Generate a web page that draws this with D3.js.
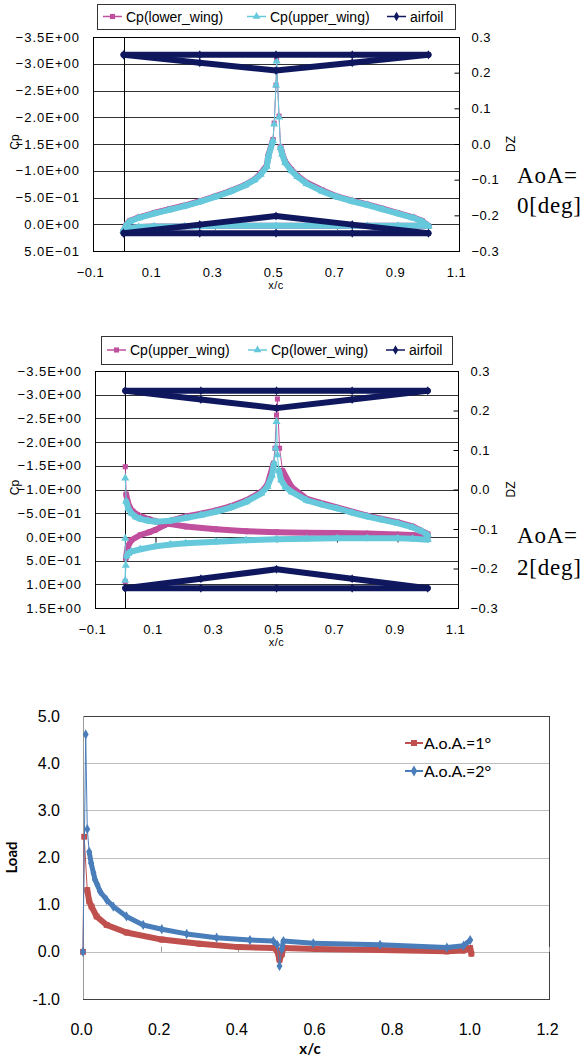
<!DOCTYPE html>
<html>
<head>
<meta charset="utf-8">
<script src="https://cdn.jsdelivr.net/npm/d3@7"></script>
<style>
  body { margin: 0; background: #fff; }
  svg { display: block; }
</style>
</head>
<body>
<div id="chart"></div>
<script>
// ---------- panel 1 : AoA = 0 deg ----------
const p1LowerInnerX  = [0, 0.01, 0.02, 0.05, 0.1, 0.15, 0.2, 0.25, 0.3, 0.35, 0.4, 0.43, 0.45, 0.47, 0.475, 0.49, 0.494, 0.5, 0.502, 0.51, 0.515, 0.52, 0.53, 0.55, 0.57, 0.6, 0.65, 0.7, 0.75, 0.8, 0.85, 0.9, 0.95, 0.98, 1.0];
const p1LowerInnerCp = [0.12, 0.0, -0.06, -0.13, -0.21, -0.28, -0.35, -0.43, -0.52, -0.62, -0.74, -0.84, -0.95, -1.1, -1.29, -1.58, -1.89, -2.6, -3.08, -2.02, -1.45, -1.33, -1.17, -1.02, -0.91, -0.78, -0.64, -0.52, -0.44, -0.37, -0.29, -0.21, -0.13, -0.06, 0.03];
const p1UpperInnerCp = [0.12, 0.01, -0.05, -0.12, -0.2, -0.27, -0.34, -0.42, -0.51, -0.61, -0.73, -0.83, -0.93, -1.08, -1.27, -1.56, -1.87, -2.6, -3.05, -2.0, -1.43, -1.31, -1.15, -1.0, -0.89, -0.76, -0.62, -0.51, -0.43, -0.36, -0.28, -0.2, -0.12, -0.05, 0.04];
const p1OuterX  = [0, 0.02, 0.05, 0.1, 0.2, 0.3, 0.4, 0.5, 0.6, 0.7, 0.8, 0.9, 1.0];
const p1OuterCp = [0.12, 0.07, 0.05, 0.04, 0.04, 0.03, 0.03, 0.03, 0.03, 0.03, 0.03, 0.03, 0.03];

// airfoil (biplane sections), same in both panels
const foilX      = [0, 0.25, 0.5, 0.75, 1.0, 0.75, 0.5, 0.25, 0];
const foilUpperZ = [0.25, 0.228, 0.206, 0.228, 0.25, 0.25, 0.25, 0.25, 0.25];
const foilLowerZ = [-0.25, -0.226, -0.202, -0.226, -0.25, -0.25, -0.25, -0.25, -0.25];

// ---------- panel 2 : AoA = 2 deg ----------
const p2UpperOuterX  = [0, 0.003, 0.008, 0.015, 0.025, 0.04, 0.06, 0.08, 0.1, 0.15, 0.2, 0.3, 0.4, 0.5, 0.6, 0.7, 0.8, 0.9, 0.95, 1.0];
const p2UpperOuterCp = [-1.48, -0.9, -0.75, -0.62, -0.54, -0.47, -0.41, -0.37, -0.33, -0.27, -0.22, -0.16, -0.12, -0.1, -0.09, -0.08, -0.07, -0.05, -0.04, -0.01];
const p2UpperInnerX  = [0, 0.002, 0.008, 0.02, 0.05, 0.08, 0.1, 0.13, 0.16, 0.2, 0.25, 0.3, 0.35, 0.4, 0.45, 0.47, 0.49, 0.495, 0.5, 0.503, 0.51, 0.52, 0.55, 0.6, 0.7, 0.8, 0.9, 0.95, 1.0];
const p2UpperInnerCp = [0.94, 0.45, 0.21, 0.07, -0.04, -0.1, -0.15, -0.25, -0.36, -0.43, -0.49, -0.56, -0.65, -0.77, -0.95, -1.1, -1.55, -1.87, -2.57, -2.91, -1.87, -1.4, -1.05, -0.8, -0.62, -0.45, -0.31, -0.22, -0.06];
const p2LowerInnerX  = [0, 0.003, 0.01, 0.02, 0.035, 0.05, 0.075, 0.1, 0.15, 0.2, 0.25, 0.3, 0.35, 0.4, 0.45, 0.47, 0.485, 0.492, 0.497, 0.5, 0.503, 0.508, 0.515, 0.53, 0.55, 0.6, 0.65, 0.7, 0.75, 0.8, 0.85, 0.9, 0.95, 0.98, 1.0];
const p2LowerInnerCp = [-1.24, -0.75, -0.6, -0.5, -0.42, -0.38, -0.34, -0.32, -0.34, -0.4, -0.46, -0.53, -0.62, -0.74, -0.92, -1.06, -1.3, -1.55, -1.87, -2.43, -1.73, -1.4, -1.2, -1.05, -0.95, -0.77, -0.68, -0.6, -0.51, -0.43, -0.36, -0.29, -0.2, -0.12, -0.04];
const p2LowerOuterX  = [0, 0, 0.002, 0.005, 0.01, 0.02, 0.05, 0.1, 0.15, 0.2, 0.3, 0.4, 0.5, 0.6, 0.7, 0.8, 0.9, 0.95, 1.0];
const p2LowerOuterCp = [0.03, 0.92, 0.6, 0.4, 0.35, 0.31, 0.26, 0.2, 0.16, 0.135, 0.1, 0.07, 0.05, 0.04, 0.03, 0.03, 0.03, 0.04, 0.06];

// ---------- panel 3 : load ----------
const load1X = [0, 0.003, 0.011, 0.016, 0.022, 0.035, 0.061, 0.112, 0.203, 0.3, 0.4, 0.49, 0.5, 0.506, 0.512, 0.516, 0.6, 0.765, 0.937, 0.98, 0.997, 1.0];
const load1  = [0, 2.44, 1.31, 1.07, 0.96, 0.75, 0.57, 0.41, 0.26, 0.17, 0.1, 0.08, 0.03, -0.17, -0.05, 0.08, 0.06, 0.04, 0.01, 0.03, 0.08, -0.04];
const load2X = [0, 0.007, 0.011, 0.016, 0.021, 0.027, 0.031, 0.037, 0.044, 0.061, 0.078, 0.112, 0.155, 0.203, 0.267, 0.344, 0.43, 0.49, 0.5, 0.506, 0.512, 0.516, 0.593, 0.765, 0.937, 0.98, 0.997];
const load2  = [0, 4.61, 2.6, 2.12, 1.88, 1.67, 1.53, 1.42, 1.28, 1.1, 0.96, 0.75, 0.57, 0.48, 0.38, 0.3, 0.25, 0.23, 0.15, -0.3, 0.05, 0.23, 0.18, 0.15, 0.09, 0.13, 0.25];

const cpTicks1 = [-3.5, -3.0, -2.5, -2.0, -1.5, -1.0, -0.5, 0.0, 0.5];
const cpTicks2 = [-3.5, -3.0, -2.5, -2.0, -1.5, -1.0, -0.5, 0.0, 0.5, 1.0, 1.5];
const dzTicks  = [0.3, 0.2, 0.1, 0.0, -0.1, -0.2, -0.3];
const xcTicks  = [-0.1, 0.1, 0.3, 0.5, 0.7, 0.9, 1.1];
const loadTicks = [-1, 0, 1, 2, 3, 4, 5];
const loadXTicks = [0, 0.2, 0.4, 0.6, 0.8, 1.0, 1.2];

const MAG = "#c04f9e", CYA = "#66c9db", NAVY = "#0f185e";
const RED = "#c0504d", BLUE = "#4a7ebb";

const svg = d3.select("#chart").append("svg").attr("width", 587).attr("height", 1059);
svg.append("rect").attr("width", 587).attr("height", 1059).attr("fill", "#fff");

function cpFormat(v) {
  const s = d3.format(".1e")(Math.abs(v));
  const [m, e] = s.split("e");
  const sign = +e < 0 ? "\u2212" : "+";
  return (v < 0 ? "\u2212" : "") + m + "E" + sign + String(Math.abs(+e)).padStart(2, "0");
}

// thick band (dense markers) + thin line + markers
function drawSeries(g, xs, ys, x, y, color, shape, size, band) {
  const pts = xs.map((d, i) => [x(d), y(ys[i])]);
  const segs = d3.pairs(pts).filter(([a, b]) => Math.abs(b[1] - a[1]) <= 3 * Math.abs(b[0] - a[0]) + 6);
  g.append("g").selectAll("line").data(segs).join("line")
    .attr("x1", d => d[0][0]).attr("y1", d => d[0][1])
    .attr("x2", d => d[1][0]).attr("y2", d => d[1][1])
    .attr("stroke", color).attr("stroke-width", band).attr("stroke-linecap", "round");
  g.append("path").attr("d", d3.line()(pts))
    .attr("fill", "none").attr("stroke", color).attr("stroke-width", 1);
  g.append("g").selectAll("path").data(pts).join("path")
    .attr("transform", d => `translate(${d[0]},${d[1]})`)
    .attr("d", d3.symbol(shape, size)).attr("fill", color);
}

function cpPanel(o) {
  const g = svg.append("g").style("font-family", "'Liberation Sans', Arial, sans-serif");
  const x = d3.scaleLinear().domain([-0.1, 1.1]).range([o.left, o.right]);
  const y = d3.scaleLinear().domain([o.cpTicks[0], o.cpTicks[o.cpTicks.length - 1]]).range([o.top, o.bottom]);
  const z = d3.scaleLinear().domain([0.3, -0.3]).range([o.top, o.bottom]);

  // gridlines
  g.append("g").selectAll("line").data(o.cpTicks).join("line")
    .attr("x1", o.left).attr("x2", o.right)
    .attr("y1", d => Math.round(y(d)) + 0.5).attr("y2", d => Math.round(y(d)) + 0.5)
    .attr("stroke", "#333").attr("stroke-width", 1);
  g.append("rect").attr("x", o.left + 0.5).attr("y", o.top + 0.5)
    .attr("width", o.right - o.left).attr("height", o.bottom - o.top)
    .attr("fill", "none").attr("stroke", "#000");
  // value axis crossing at x = 0
  g.append("line").attr("x1", Math.round(x(0)) + 0.5).attr("x2", Math.round(x(0)) + 0.5)
    .attr("y1", o.top).attr("y2", o.bottom).attr("stroke", "#000");

  // category axis at Cp = 0 with tick marks
  g.append("g").attr("transform", `translate(0,${Math.round(y(0)) + 0.5})`)
    .call(d3.axisBottom(x).tickValues(o.xTicks).tickSize(5).tickFormat(""))
    .call(a => a.select(".domain").remove())
    .selectAll("line").attr("stroke", "#000");

  // left Cp labels
  g.append("g").attr("transform", `translate(${o.left},0)`)
    .call(d3.axisLeft(y).tickValues(o.cpTicks).tickSize(0).tickPadding(13).tickFormat(cpFormat))
    .call(a => a.select(".domain").remove())
    .selectAll("text").attr("font-size", 13).attr("letter-spacing", 1)
    .attr("fill", "#000").attr("font-family", null);

  // right DZ axis
  g.append("g").attr("transform", `translate(${o.right + 0.5},0)`)
    .call(d3.axisRight(z).tickValues(dzTicks).tickSize(-5).tickPadding(12).tickFormat(d3.format(".1f")))
    .call(a => a.select(".domain").remove())
    .call(a => a.selectAll("line").attr("stroke", "#000"))
    .selectAll("text").attr("font-size", 13).attr("letter-spacing", 0.5)
    .attr("fill", "#000").attr("font-family", null);

  // bottom x labels
  g.append("g").attr("transform", `translate(0,${o.bottom})`)
    .call(d3.axisBottom(x).tickValues(o.xTicks).tickSize(0).tickPadding(17).tickFormat(d3.format(".1f")))
    .call(a => a.select(".domain").remove())
    .selectAll("text").attr("font-size", 13).attr("letter-spacing", 0.5)
    .attr("fill", "#000").attr("font-family", null).attr("dx", -3);

  g.append("text").attr("x", x(0.5)).attr("y", o.bottom + 38).attr("text-anchor", "middle")
    .attr("font-size", 11).attr("letter-spacing", 0.5).text("x/c");
  g.append("text").attr("transform", `translate(19,${(o.top + o.bottom) / 2 - 2}) rotate(-90)`)
    .attr("text-anchor", "middle").attr("font-size", 12).text("Cp");
  g.append("text").attr("transform", `translate(515,${(o.top + o.bottom) / 2}) rotate(-90)`)
    .attr("text-anchor", "middle").attr("font-size", 12).text("DZ");

  // series
  const sg = g.append("g");
  o.series.forEach(s => {
    s.branches.forEach(b => drawSeries(sg, b[0], b[1], x, y, s.color, s.shape, s.size, 6));
  });
  drawSeries(sg, foilX, foilUpperZ, x, z, NAVY, d3.symbolDiamond, 24, 6);
  drawSeries(sg, foilX, foilLowerZ, x, z, NAVY, d3.symbolDiamond, 24, 6);

  // legend
  const lg = g.append("g");
  lg.append("rect").attr("x", o.legend.x + 0.5).attr("y", o.legend.y + 0.5)
    .attr("width", o.legend.w).attr("height", o.legend.h)
    .attr("fill", "#fff").attr("stroke", "#333");
  const cy = o.legend.y + o.legend.h / 2;
  o.legend.items.forEach(it => {
    lg.append("line").attr("x1", it.lx).attr("x2", it.lx + 19).attr("y1", cy).attr("y2", cy)
      .attr("stroke", it.color).attr("stroke-width", 1.5);
    lg.append("path").attr("transform", `translate(${it.lx + 9.5},${cy})`)
      .attr("d", d3.symbol(it.shape, 26)).attr("fill", it.color);
    lg.append("text").attr("x", it.lx + 23).attr("y", cy + 5).attr("font-size", 14).text(it.label);
  });

  // annotation
  const ann = g.append("text").attr("font-family", "'Liberation Serif', 'Times New Roman', serif")
    .attr("font-size", 23).attr("letter-spacing", 0.8);
  ann.append("tspan").attr("x", 517).attr("y", o.annY).text("AoA=");
  ann.append("tspan").attr("x", 517).attr("y", o.annY + o.annGap).text(o.annText);
}

cpPanel({
  left: 93, right: 459, top: 37, bottom: 251,
  cpTicks: cpTicks1, xTicks: xcTicks,
  series: [
    { color: MAG, shape: d3.symbolSquare, size: 26,
      branches: [[p1LowerInnerX, p1LowerInnerCp], [p1OuterX, p1OuterCp]] },
    { color: CYA, shape: d3.symbolTriangle, size: 28,
      branches: [[p1LowerInnerX, p1UpperInnerCp], [p1OuterX, p1OuterCp]] }
  ],
  legend: { x: 97, y: 4, w: 358, h: 25, items: [
    { label: "Cp(lower_wing)", color: MAG, shape: d3.symbolSquare, lx: 103 },
    { label: "Cp(upper_wing)", color: CYA, shape: d3.symbolTriangle, lx: 247 },
    { label: "airfoil", color: NAVY, shape: d3.symbolDiamond, lx: 387 }
  ] },
  annY: 183, annGap: 30, annText: "0[deg]"
});

cpPanel({
  left: 95, right: 458, top: 371, bottom: 608,
  cpTicks: cpTicks2, xTicks: xcTicks,
  series: [
    { color: MAG, shape: d3.symbolSquare, size: 26,
      branches: [[p2UpperOuterX, p2UpperOuterCp], [p2UpperInnerX, p2UpperInnerCp]] },
    { color: CYA, shape: d3.symbolTriangle, size: 28,
      branches: [[p2LowerInnerX, p2LowerInnerCp], [p2LowerOuterX, p2LowerOuterCp]] }
  ],
  legend: { x: 101, y: 336, w: 351, h: 28, items: [
    { label: "Cp(upper_wing)", color: MAG, shape: d3.symbolSquare, lx: 107 },
    { label: "Cp(lower_wing)", color: CYA, shape: d3.symbolTriangle, lx: 248 },
    { label: "airfoil", color: NAVY, shape: d3.symbolDiamond, lx: 386 }
  ] },
  annY: 543, annGap: 32, annText: "2[deg]"
});

// ---------- load chart ----------
(function () {
  const L = 83, R = 549, T = 716, B = 999;
  const g = svg.append("g").style("font-family", "Lato, 'Open Sans', sans-serif");
  const x = d3.scaleLinear().domain([0, 1.2]).range([L, R]);
  const y = d3.scaleLinear().domain([-1, 5]).range([B, T]);

  g.append("g").selectAll("line").data(loadTicks).join("line")
    .attr("x1", L).attr("x2", R)
    .attr("y1", d => Math.round(y(d)) + 0.5).attr("y2", d => Math.round(y(d)) + 0.5)
    .attr("stroke", "#bdbdbd");
  g.append("rect").attr("x", L + 0.5).attr("y", T + 0.5).attr("width", R - L).attr("height", B - T)
    .attr("fill", "none").attr("stroke", "#404040");
  g.append("line").attr("x1", L + 0.5).attr("x2", L + 0.5).attr("y1", T).attr("y2", B)
    .attr("stroke", "#9a9a9a");
  // tick marks on the zero line
  g.append("g").selectAll("line").data(loadXTicks).join("line")
    .attr("x1", d => Math.round(x(d)) + 0.5).attr("x2", d => Math.round(x(d)) + 0.5)
    .attr("y1", y(0) - 5).attr("y2", y(0)).attr("stroke", "#9a9a9a");

  g.append("g").attr("transform", `translate(${L},0)`)
    .call(d3.axisLeft(y).tickValues(loadTicks).tickSize(0).tickPadding(23)
      .tickFormat(d => d3.format(".1f")(d).replace("\u2212", "-")))
    .call(a => a.select(".domain").remove())
    .selectAll("text").attr("font-size", 16).attr("fill", "#000").attr("font-family", null);
  g.append("g").attr("transform", `translate(0,${B})`)
    .call(d3.axisBottom(x).tickValues(loadXTicks).tickSize(0).tickPadding(25).tickFormat(d3.format(".1f")))
    .call(a => a.select(".domain").remove())
    .selectAll("text").attr("font-size", 16).attr("fill", "#000").attr("font-family", null)
    .attr("dx", -2);

  g.append("text").attr("x", 310).attr("y", 1054).attr("text-anchor", "middle")
    .attr("font-size", 15).attr("font-weight", "bold").text("x/c");
  g.append("text").attr("transform", `translate(17,${(T + B) / 2}) rotate(-90)`)
    .attr("text-anchor", "middle").attr("font-size", 15).attr("font-weight", "bold").text("Load");

  drawSeries(g, load1X, load1, x, y, RED, d3.symbolSquare, 34, 6);
  drawSeries(g, load2X, load2, x, y, BLUE, d3.symbolDiamond, 30, 5);

  const items = [
    { label: "A.o.A.=1°", color: RED, shape: d3.symbolSquare, cy: 743 },
    { label: "A.o.A.=2°", color: BLUE, shape: d3.symbolDiamond, cy: 771 }
  ];
  items.forEach(it => {
    g.append("line").attr("x1", 405).attr("x2", 423).attr("y1", it.cy).attr("y2", it.cy)
      .attr("stroke", it.color).attr("stroke-width", 2);
    g.append("path").attr("transform", `translate(414,${it.cy})`)
      .attr("d", d3.symbol(it.shape, 36)).attr("fill", it.color);
    g.append("text").attr("x", 424).attr("y", it.cy + 6).attr("font-size", 16).text(it.label);
  });
})();
</script>
</body>
</html>
